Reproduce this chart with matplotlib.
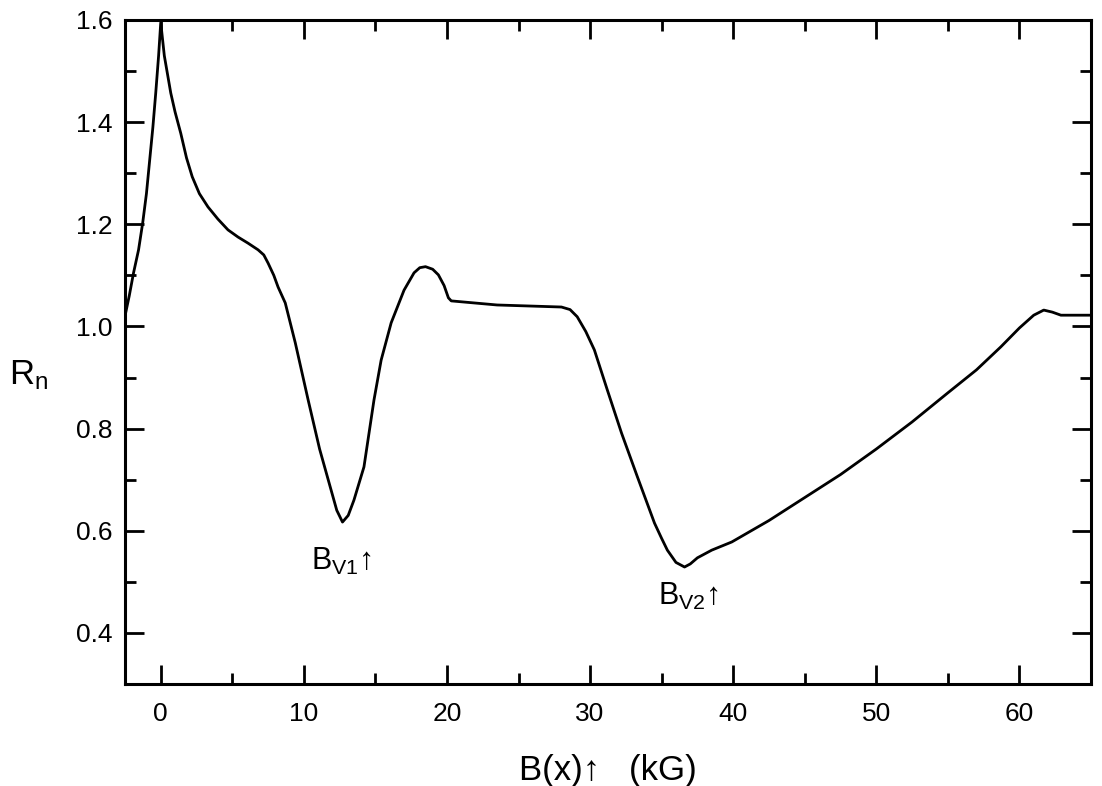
import matplotlib
matplotlib.use("Agg")
import matplotlib.pyplot as plt
from matplotlib.ticker import MultipleLocator

plt.rcParams['font.family'] = ['Liberation Sans', 'DejaVu Sans']
plt.rcParams['mathtext.fontset'] = 'custom'
plt.rcParams['mathtext.rm'] = 'Liberation Sans'
plt.rcParams['mathtext.it'] = 'Liberation Sans'

# field B (kG) and normalised resistance R_n
b_field = [-2.5, -2.2, -1.9, -1.55, -1.26, -1.0, -0.82, -0.55, -0.35, -0.15, 0.0,
           0.25, 0.7, 1.0, 1.4, 1.8, 2.2, 2.7, 3.3, 4.0, 4.7, 5.4, 6.1, 6.8, 7.2,
           7.5, 7.9, 8.2, 8.7, 9.4, 10.3, 11.1, 11.9, 12.3, 12.7, 13.1, 13.5, 14.2,
           14.9, 15.4, 16.1, 17.0, 17.7, 18.1, 18.5, 19.0, 19.4, 19.8, 20.1, 20.3,
           23.5, 28.0, 28.6, 29.1, 29.7, 30.3, 31.2, 32.2, 33.3, 34.5, 35.0, 35.4,
           36.0, 36.6, 37.0, 37.5, 38.5, 39.9, 42.5, 45.0, 47.5, 50.0, 52.5, 55.0,
           57.0, 58.7, 60.0, 61.0, 61.7, 62.3, 62.9, 65.0]
r_n = [1.02, 1.06, 1.105, 1.15, 1.203, 1.26, 1.312, 1.39, 1.457, 1.53, 1.595,
       1.53, 1.457, 1.42, 1.378, 1.33, 1.293, 1.26, 1.234, 1.21, 1.189, 1.175,
       1.163, 1.15, 1.14, 1.124, 1.10, 1.077, 1.046, 0.968, 0.856, 0.76, 0.68,
       0.64, 0.617, 0.63, 0.66, 0.725, 0.856, 0.934, 1.007, 1.071, 1.105, 1.115,
       1.117, 1.112, 1.101, 1.08, 1.056, 1.05, 1.042, 1.038, 1.033, 1.019, 0.99,
       0.954, 0.876, 0.791, 0.706, 0.615, 0.585, 0.562, 0.538, 0.529, 0.535,
       0.547, 0.562, 0.578, 0.62, 0.665, 0.71, 0.76, 0.813, 0.87, 0.915, 0.96,
       0.997, 1.022, 1.032, 1.028, 1.022, 1.022]

fig = plt.figure(figsize=(11.02, 7.86), dpi=100)
ax = fig.add_axes([0.1134, 0.1298, 0.8766, 0.8448])

ax.plot(b_field, r_n, color='black', lw=2.0, solid_joinstyle='round')

ax.set_xlim(-2.5, 65)
ax.set_ylim(0.3, 1.6)
ax.xaxis.set_major_locator(MultipleLocator(10))
ax.xaxis.set_minor_locator(MultipleLocator(5))
ax.yaxis.set_minor_locator(MultipleLocator(0.1))
ax.set_yticks([0.4, 0.6, 0.8, 1.0, 1.2, 1.4, 1.6])
ax.tick_params(which='both', direction='in', top=True, right=True, width=2)
ax.tick_params(which='major', length=14, labelsize=19)
ax.tick_params(axis='x', which='major', pad=13)
ax.tick_params(axis='y', which='major', pad=9)
ax.tick_params(which='minor', length=8)
for s in ax.spines.values():
    s.set_linewidth(2.2)

ax.set_xlabel('B(x)\u2191   (kG)', fontsize=25, labelpad=14)
ax.xaxis.set_label_coords(0.5, -0.105)
ax.set_ylabel(r'$\mathregular{R_n}$', fontsize=25, rotation=0)
ax.yaxis.set_label_coords(-0.1, 0.44)

ax.text(10.5, 0.523, r'$\mathregular{B_{V1}}$' + '\u2191', fontsize=22)
ax.text(34.75, 0.455, r'$\mathregular{B_{V2}}$' + '\u2191', fontsize=22)

fig.savefig('out.png', dpi=100)
